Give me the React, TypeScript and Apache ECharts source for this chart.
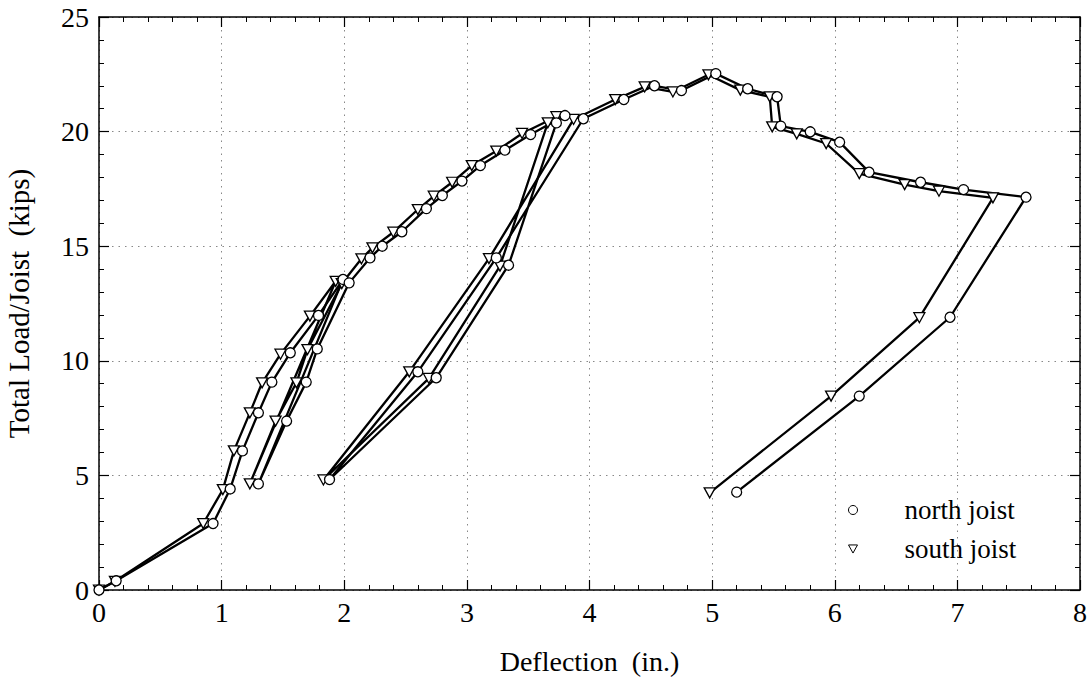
import React, { useEffect, useRef } from "react";
import * as echarts from "echarts";

const northX = [0, 0.14, 0.93, 1.07, 1.17, 1.30, 1.41, 1.56, 1.79, 1.99, 1.30, 1.53, 1.69, 1.78, 2.04, 2.21, 2.31, 2.47, 2.67, 2.80, 2.96, 3.11, 3.31, 3.52, 3.80, 3.73, 3.34, 2.75, 1.88, 2.60, 3.24, 3.95, 4.28, 4.53, 4.75, 5.03, 5.29, 5.53, 5.56, 5.80, 6.04, 6.28, 6.70, 7.05, 7.56, 6.94, 6.20, 5.20];
const northY = [0, 0.4, 2.9, 4.41, 6.07, 7.73, 9.07, 10.35, 11.98, 13.55, 4.63, 7.37, 9.07, 10.52, 13.4, 14.49, 15.0, 15.63, 16.64, 17.21, 17.84, 18.52, 19.19, 19.87, 20.7, 20.38, 14.17, 9.26, 4.82, 9.52, 14.49, 20.56, 21.4, 22.0, 21.79, 22.53, 21.87, 21.52, 20.24, 19.99, 19.54, 18.23, 17.79, 17.47, 17.14, 11.9, 8.46, 4.27];

const southX = [0, 0.13, 0.85, 1.01, 1.10, 1.23, 1.33, 1.48, 1.72, 1.93, 1.23, 1.44, 1.61, 1.70, 1.98, 2.14, 2.23, 2.40, 2.60, 2.73, 2.88, 3.04, 3.24, 3.45, 3.73, 3.66, 3.27, 2.69, 1.83, 2.53, 3.18, 3.87, 4.21, 4.45, 4.68, 4.97, 5.23, 5.47, 5.49, 5.69, 5.93, 6.20, 6.57, 6.85, 7.29, 6.69, 5.97, 4.98];
const southY = [0, 0.38, 2.9, 4.38, 6.07, 7.73, 9.04, 10.29, 11.95, 13.47, 4.63, 7.37, 9.04, 10.49, 13.37, 14.45, 14.93, 15.61, 16.6, 17.18, 17.79, 18.52, 19.15, 19.92, 20.65, 20.38, 14.13, 9.23, 4.8, 9.52, 14.46, 20.53, 21.4, 21.95, 21.73, 22.48, 21.81, 21.52, 20.21, 19.9, 19.48, 18.17, 17.69, 17.4, 17.11, 11.88, 8.46, 4.24];

const seriesNames = ["north joist", "south joist"];
const xTitle = "Deflection  (in.)";
const yTitle = "Total Load/Joist  (kips)";

const FONT = "Liberation Serif";
const DOWN_TRI = "path://M0,0 L10,0 L5,9 Z";

export default function App() {
  const ref = useRef<HTMLDivElement>(null);
  useEffect(() => {
    if (!ref.current) return;
    const chart = echarts.init(ref.current, null, { renderer: "svg" });
    const pairs = (xs: number[], ys: number[]) => xs.map((x, i) => [x, ys[i]]);
    const axisCommon = {
      type: "value" as const,
      axisLine: { show: true, onZero: false, lineStyle: { color: "#000", width: 1.5 } },
      axisTick: { show: true, inside: true, length: 10, lineStyle: { color: "#000", width: 1.2 } },
      minorTick: { show: true, splitNumber: 5, length: 5, lineStyle: { color: "#000", width: 1 } },
    };
    const labelStyle = { color: "#000", fontSize: 28, fontFamily: FONT };
    chart.setOption({
      animation: false,
      backgroundColor: "#fff",
      textStyle: { fontFamily: FONT },
      grid: { left: 99, right: 8, top: 17, bottom: 103, containLabel: false, outerBoundsMode: "none" },
      xAxis: [
        {
          ...axisCommon,
          min: 0, max: 8, interval: 1, position: "bottom",
          splitLine: { show: true, lineStyle: { color: "#888", type: [1.5, 5], width: 1 } },
          axisLabel: { ...labelStyle, margin: 8 },
          name: xTitle, nameLocation: "middle", nameGap: 57,
          nameTextStyle: { color: "#000", fontSize: 28, fontFamily: FONT },
        },
        {
          ...axisCommon,
          min: 0, max: 8, interval: 1, position: "top",
          splitLine: { show: false }, axisLabel: { show: false },
        },
      ],
      yAxis: [
        {
          ...axisCommon,
          min: 0, max: 25, interval: 5, position: "left",
          splitLine: { show: true, lineStyle: { color: "#888", type: [1.5, 5], width: 1 } },
          axisLabel: { ...labelStyle, margin: 10 },
          name: yTitle, nameLocation: "middle", nameGap: 66,
          nameTextStyle: { color: "#000", fontSize: 29, fontFamily: FONT },
        },
        {
          ...axisCommon,
          min: 0, max: 25, interval: 5, position: "right",
          splitLine: { show: false }, axisLabel: { show: false },
        },
      ],
      legend: {
        orient: "vertical",
        left: 843,
        top: 491,
        itemWidth: 9,
        itemHeight: 9,
        itemGap: 11,
        data: [
          { name: seriesNames[0], icon: "circle" },
          { name: seriesNames[1], icon: DOWN_TRI },
        ],
        itemStyle: { color: "#fff", borderColor: "#000", borderWidth: 1 },
        textStyle: { color: "#000", fontSize: 27, lineHeight: 28, fontFamily: FONT, padding: [0, 0, 0, 42] },
      },
      series: [
        {
          name: seriesNames[1],
          type: "line",
          data: pairs(southX, southY),
          symbol: DOWN_TRI,
          symbolSize: [11, 10],
          showAllSymbol: true,
          lineStyle: { color: "#000", width: 2.3 },
          itemStyle: { color: "#fff", borderColor: "#000", borderWidth: 1.3 },
          emphasis: { disabled: true },
        },
        {
          name: seriesNames[0],
          type: "line",
          data: pairs(northX, northY),
          symbol: "circle",
          symbolSize: 10,
          showAllSymbol: true,
          lineStyle: { color: "#000", width: 2.3 },
          itemStyle: { color: "#fff", borderColor: "#000", borderWidth: 1.3 },
          emphasis: { disabled: true },
        },
      ],
    });
    return () => chart.dispose();
  }, []);
  return (
    <div
      ref={ref}
      style={{ position: "fixed", left: 0, top: 0, width: 1088, height: 693, background: "#fff" }}
    />
  );
}
